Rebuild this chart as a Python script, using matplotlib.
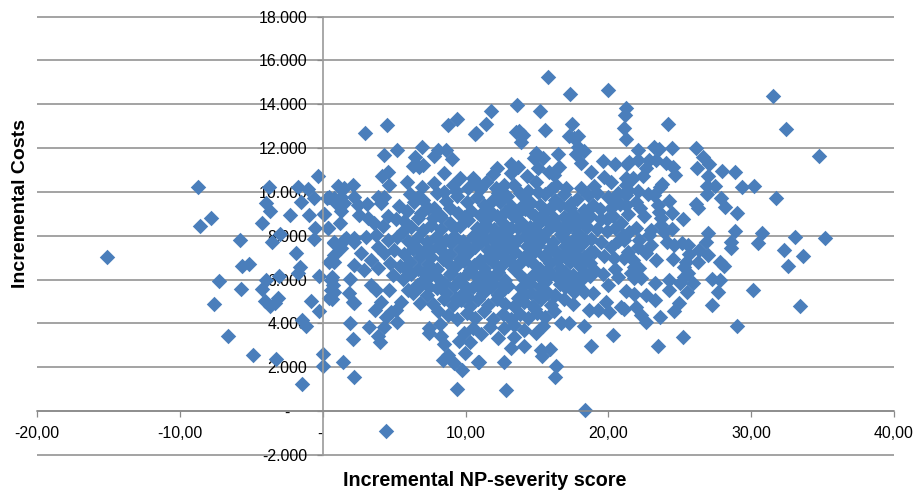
# scatter of incremental costs against incremental NP-severity score
import numpy as np
import matplotlib
matplotlib.use('Agg')
import matplotlib.pyplot as plt

x_ticks = [-20, -10, 0, 10, 20, 30, 40]
x_labels = ['-20,00', '-10,00', '- ', '10,00', '20,00', '30,00', '40,00']
y_ticks = [-2000, 0, 2000, 4000, 6000, 8000, 10000, 12000, 14000, 16000, 18000]
y_labels = ['-2.000', '-    ', '2.000', '4.000', '6.000', '8.000', '10.000', '12.000', '14.000', '16.000', '18.000']

# (score, costs), region by region
far_left = [
    (-15.1, 7050), (-8.75, 10230), (-8.57, 8450), (-7.8, 8800), (-7.24, 5930), (-7.63, 4890),
    (-6.65, 3430), (-5.8, 7810), (-5.72, 5560), (-5.63, 6640), (-5.18, 6720), (-4.88, 2570),
    (-4.27, 8600), (-4.25, 5560), (-3.97, 9500), (-3.97, 5990), (-3.78, 10230), (-3.69, 9150),
    (-3.57, 7730), (-3.25, 2370), (-3.06, 6180), (-4.02, 5010), (-3.67, 4820), (-3.34, 4920),
    (-3.15, 5150), (-2.97, 8080), (-2.29, 8950), (-1.87, 7220), (-1.75, 6290), (-1.73, 10230),
    (-1.59, 6570), (-1.5, 9560), (-1.47, 1240), (-1.45, 4160), (-1.17, 3890), (-1.05, 10120),
    (-0.94, 8950), (-0.84, 5020), (-0.63, 7840), (-0.59, 9710), (-0.54, 8370), (-0.35, 10740),
    (-0.28, 6170), (-0.28, 4560), (0.0, 2070), (0.04, 2600), (0.07, 8980), (0.28, 9710),
    (0.35, 8340), (0.44, 6820), (0.58, 5990), (0.58, 5530), (0.44, 5170),
]
upper_left = [
    (2.99, 12680), (4.5, 13060), (4.27, 11700), (5.2, 11900), (6.95, 12050), (6.49, 11610),
    (8.05, 11920), (8.63, 11920), (7.81, 11660), (9.03, 11500), (6.3, 11190), (6.77, 11150),
    (7.05, 11230), (4.55, 10900), (4.15, 10740), (4.64, 10330), (5.93, 10440), (6.95, 10230),
    (8.52, 10850), (7.81, 10400), (8.52, 10010), (2.1, 10320), (1.09, 10270), (1.51, 10170),
    (0.46, 9760), (0.81, 9710), (2.21, 9790), (1.28, 9790), (1.51, 9480), (0.93, 9480),
    (1.28, 9150), (0.11, 9000), (1.21, 8600), (0.39, 8340), (2.45, 9410), (3.1, 9450),
    (2.56, 8950), (3.85, 9790), (4.31, 9790), (4.08, 9480), (5.32, 9360), (6.13, 9900),
    (6.65, 9760), (6.37, 9560), (4.55, 8920), (5.13, 8750), (5.71, 8680), (6.65, 8800),
    (3.15, 8800), (3.61, 8570), (4.2, 8460), (3.73, 8040), (7.35, 9260), (7.81, 9260),
    (8.28, 8870), (0.77, 7730), (1.63, 7890), (2.21, 7890), (3.03, 7960),
]
lower_left = [
    (0.81, 7660), (1.51, 7810), (2.21, 7730), (1.28, 7430), (0.77, 7130), (0.81, 6820),
    (2.91, 6440), (2.21, 6670), (3.38, 6900), (2.68, 7200), (3.85, 7510), (0.63, 6110),
    (0.7, 5760), (0.77, 5450), (0.65, 5130), (1.91, 6020), (1.82, 5380), (2.1, 5000),
    (2.21, 4920), (1.93, 4010), (2.12, 3310), (1.42, 2230), (2.21, 1580), (3.26, 3860),
    (3.9, 3430), (3.99, 3170), (3.68, 4600), (4.31, 3860), (5.2, 4070), (4.43, 4310),
    (4.78, 4540), (3.38, 5760), (3.73, 5530), (4.66, 5530), (5.48, 5000), (5.13, 4620),
    (4.08, 5000), (5.99, 5530), (6.81, 4950), (6.81, 5710), (7.47, 5650), (8.05, 4590),
    (8.23, 3970), (7.47, 3810), (7.47, 3560), (8.31, 3430), (8.47, 3070), (8.75, 2570),
    (8.43, 2340), (9.22, 2190), (9.78, 1880), (9.38, 1000), (9.97, 2670), (9.57, 3220),
    (9.92, 3560), (10.32, 3170), (10.9, 2260), (4.4, -900),
]
upper_mid = [
    (9.38, 13330), (8.77, 13070), (10.69, 12660), (15.76, 15260), (17.34, 14470), (19.96, 14650),
    (13.61, 13970), (11.77, 13710), (15.2, 13710), (11.44, 13090), (10.74, 12670), (17.46, 13100),
    (15.59, 12840), (13.77, 12800), (14.0, 12600), (13.89, 12290), (13.54, 12750), (17.27, 12570),
    (17.9, 12570), (17.62, 12450), (21.24, 13810), (21.17, 13510), (21.08, 12920), (21.24, 12420),
    (17.9, 12040), (18.32, 11880), (17.74, 11730), (18.09, 11310), (14.94, 11760), (14.82, 11540),
    (15.41, 11570), (16.46, 11730), (12.21, 11110), (13.19, 11280), (13.66, 11150), (13.19, 10850),
    (14.29, 10740), (15.06, 11110), (15.87, 10930), (16.57, 11150), (16.22, 10780), (16.34, 10320),
    (19.65, 11400), (20.49, 11280), (21.31, 11280), (18.79, 10930), (19.72, 10700), (20.19, 10470),
    (21.24, 10620), (11.44, 10470), (10.5, 10620), (12.14, 10170), (12.72, 10320), (13.42, 10320),
    (14.94, 10470), (15.06, 10010), (14.12, 9790), (11.91, 9640), (17.04, 10170), (18.09, 10170),
    (17.39, 9480), (18.32, 9180), (18.91, 9410), (16.92, 8870), (19.96, 9790), (20.66, 9940),
    (21.36, 10090),
]
lower_mid = [
    (10.97, 2260), (12.72, 2260), (12.84, 970), (13.19, 2870), (14.07, 2950), (15.29, 2800),
    (15.94, 2830), (15.34, 2520), (16.34, 2070), (16.29, 1580), (18.39, 60), (18.79, 2980),
    (20.31, 3480), (18.32, 3890), (12.25, 3330), (13.37, 3370), (14.12, 3710), (14.94, 3560),
    (16.69, 4040), (17.27, 4040), (18.67, 4620), (19.26, 4620), (20.07, 4540), (20.89, 4740),
    (19.84, 5000), (18.32, 5450), (18.91, 5380), (19.61, 6250), (19.96, 5760), (21.24, 5500),
]
right_side = [
    (31.55, 14360), (32.44, 12870), (24.16, 13110), (34.78, 11640), (26.14, 12020), (24.46, 12020),
    (23.22, 12040), (23.52, 11950), (22.1, 11920), (26.61, 11610), (27.07, 11280), (26.23, 11080),
    (27.94, 10970), (28.85, 10930), (26.98, 10720), (26.91, 10270), (27.49, 10290), (26.89, 9910),
    (29.34, 10210), (30.22, 10290), (31.76, 9730), (27.87, 9730), (28.19, 9330), (26.14, 9440),
    (26.28, 9280), (28.99, 9030), (25.23, 8780), (24.23, 9590), (24.48, 9060), (23.76, 10350),
    (23.64, 10210), (24.67, 10780), (24.51, 11150), (24.04, 11310), (23.34, 11460), (22.87, 11460),
    (22.64, 11080), (22.41, 10730), (21.71, 10620), (21.24, 10320), (22.06, 10060), (22.76, 9910),
    (23.22, 9850), (21.47, 11380), (22.06, 11460), (21.24, 9860), (21.24, 9410), (21.94, 9560),
    (22.24, 9260), (22.52, 8920), (21.4, 9000), (23.5, 9410), (23.57, 9100), (23.69, 8800),
    (23.69, 8500), (23.92, 8190), (24.44, 8300), (22.99, 8270), (22.87, 8040), (21.94, 8340),
    (21.47, 8190), (21.01, 8040), (21.12, 7810), (22.17, 7810), (22.99, 7580), (22.06, 7510),
    (22.64, 7230), (26.96, 8150), (28.85, 8210), (30.76, 8120), (33.07, 7960), (35.2, 7920),
    (26.84, 7730), (30.46, 7690), (28.59, 7710), (28.59, 7430), (32.33, 7360), (33.63, 7080),
    (32.56, 6640), (24.11, 7710), (24.58, 7580), (25.14, 7690), (25.56, 7580), (25.67, 7170),
    (26.37, 7360), (26.96, 7130), (24.51, 6950), (23.32, 6900), (26.3, 6800), (27.84, 6820),
    (28.12, 6640), (25.44, 6820), (25.32, 6590), (25.56, 6290), (25.32, 6140), (25.91, 5840),
    (25.04, 5840), (27.26, 6030), (27.84, 5990), (27.66, 5450), (30.15, 5530), (27.29, 4850),
    (33.45, 4800), (28.99, 3900), (24.23, 5990), (23.29, 5840), (24.23, 5530), (25.51, 5430),
    (22.64, 5300), (23.25, 5080), (24.93, 4950), (24.58, 4590), (23.64, 4290), (25.21, 3400),
    (23.48, 2960), (22.64, 4060), (22.29, 4390), (21.94, 4740), (21.08, 4680), (21.82, 5350),
    (21.82, 6590), (22.17, 6520), (21.59, 6290), (22.29, 6060), (21.82, 6060), (21.71, 6900),
    (21.12, 6980), (21.36, 7280),
]
# the dense middle, where single marks overlap and are only roughly readable
core = [
    (9.6, 10650), (10.2, 10200), (11.0, 10150), (11.9, 10800), (9.1, 10300), (8.0, 9950),
    (13.8, 9950), (15.6, 9900), (16.3, 9650), (16.9, 9900), (18.6, 9850), (19.2, 9950),
    (20.4, 9650), (7.0, 9650), (8.6, 9600), (9.4, 9800), (10.1, 9550), (10.8, 9750),
    (11.3, 9400), (12.4, 9550), (12.9, 9800), (13.2, 9350), (14.6, 9500), (15.2, 9400),
    (15.9, 9250), (16.6, 9400), (17.8, 9700), (19.4, 9200), (20.2, 9250), (20.8, 9450),
    (5.9, 9150), (6.9, 9050), (7.7, 8800), (8.9, 9250), (9.5, 9050), (10.4, 9150),
    (11.0, 8950), (11.7, 9150), (12.2, 8900), (12.8, 9100), (13.6, 9000), (14.2, 9200),
    (14.9, 8900), (15.5, 9050), (16.2, 8800), (17.5, 9000), (18.0, 8700), (18.7, 8900),
    (19.5, 8750), (20.3, 8900), (20.9, 8600), (5.6, 8200), (6.2, 8400), (7.0, 8250),
    (7.6, 8500), (8.3, 8300), (8.9, 8600), (9.6, 8450), (10.2, 8700), (10.8, 8350),
    (11.4, 8550), (12.0, 8300), (12.6, 8600), (13.2, 8350), (13.9, 8650), (14.5, 8400),
    (15.1, 8550), (15.8, 8250), (16.5, 8450), (17.2, 8350), (17.9, 8150), (18.5, 8400),
    (19.2, 8300), (19.9, 8200), (20.5, 8350), (4.6, 7800), (5.2, 7950), (6.0, 7750),
    (6.6, 7900), (7.3, 7700), (7.9, 7950), (8.6, 7800), (9.2, 8000), (9.8, 7750),
    (10.5, 7950), (11.1, 7700), (11.8, 7900), (12.4, 7650), (13.0, 7950), (13.6, 7800),
    (14.2, 8000), (14.8, 7750), (15.4, 7900), (16.1, 7700), (16.8, 7950), (17.5, 7800),
    (18.1, 7600), (18.8, 7850), (19.5, 7700), (20.2, 7500), (20.7, 7750), (4.3, 7200),
    (5.0, 7350), (5.7, 7150), (6.3, 7400), (7.0, 7250), (7.6, 7050), (8.3, 7350),
    (8.9, 7150), (9.6, 7400), (10.2, 7200), (11.6, 7350), (12.2, 7150), (12.9, 7400),
    (13.5, 7250), (14.1, 7050), (14.9, 7300), (15.5, 7100), (16.2, 7350), (16.9, 7150),
    (17.6, 7300), (18.3, 7050), (19.0, 7250), (19.7, 7100), (20.4, 7000), (3.9, 6550),
    (4.7, 6750), (5.4, 6600), (6.1, 6800), (6.7, 6500), (7.4, 6700), (8.0, 6500),
    (8.7, 6800), (9.3, 6600), (9.9, 6850), (10.6, 6650), (11.3, 6550), (11.9, 6800),
    (12.5, 6600), (13.1, 6850), (13.8, 6750), (15.2, 6500), (15.9, 6750), (16.6, 6550),
    (17.3, 6800), (18.0, 6600), (18.7, 6750), (19.0, 6450), (20.5, 6500), (4.9, 6200),
    (5.6, 6050), (6.2, 6250), (7.0, 6000), (7.6, 6200), (8.3, 5950), (8.9, 6250),
    (9.6, 6050), (10.2, 6300), (10.8, 6100), (11.5, 5950), (12.1, 6200), (12.8, 6000),
    (14.1, 6050), (14.8, 6250), (15.4, 6000), (16.0, 6250), (16.8, 6050), (17.5, 6200),
    (18.1, 6000), (18.7, 6150), (20.7, 6100), (6.3, 5400), (7.3, 5300), (8.0, 5600),
    (8.6, 5400), (9.2, 5700), (9.9, 5450), (10.5, 5650), (11.2, 5400), (11.8, 5650),
    (12.5, 5450), (13.9, 5600), (14.6, 5400), (15.2, 5650), (15.8, 5400), (17.0, 5650),
    (17.6, 5450), (7.7, 4900), (8.5, 5100), (9.1, 4850), (9.7, 5050), (10.3, 4800),
    (10.9, 5100), (11.6, 4850), (12.2, 5100), (12.8, 4900), (14.1, 5000), (14.7, 4800),
    (15.3, 5100), (16.0, 4850), (16.9, 5100), (17.5, 4900), (8.8, 4400), (9.4, 4200),
    (10.1, 4500), (10.7, 4250), (11.3, 4550), (11.9, 4200), (12.6, 4450), (13.2, 4200),
    (13.8, 4450), (14.4, 4250), (15.0, 4500), (15.6, 4300), (16.2, 4550), (10.5, 3800),
    (11.1, 3500), (11.7, 3850), (12.7, 3800), (13.4, 3950), (15.4, 3900), (11.6, 7050),
    (9.3, 10050), (10.7, 10500), (12.3, 9950), (14.4, 10050), (16.0, 10150), (19.0, 10250),
    (13.3, 8900), (15.0, 8200), (16.7, 8100), (12.0, 7400), (14.4, 6900), (16.5, 6900),
    (11.0, 6900), (12.6, 7100), (14.5, 5850), (13.0, 5700), (15.6, 5900), (10.0, 7600),
    (8.1, 7550), (6.5, 7500), (9.0, 6300), (11.4, 6350), (17.9, 5700), (16.3, 5300),
    (13.4, 4800), (11.0, 5600), (9.3, 5150), (18.8, 7300), (17.2, 8600), (19.9, 8750),
    (8.2, 8950), (9.9, 8850), (11.2, 8200), (12.4, 8150), (13.7, 8350), (14.7, 8050),
    (15.4, 8750), (16.1, 8500), (17.0, 7550), (18.4, 7800), (9.0, 7650), (10.7, 7500),
    (11.4, 7850), (12.3, 7900), (13.3, 7600), (14.3, 7550), (15.1, 7600), (15.9, 7450),
    (16.4, 7150), (17.8, 7100), (8.4, 6950), (9.6, 6950), (10.3, 6450), (12.3, 6350),
    (13.4, 6500), (14.8, 6700), (15.7, 6450), (17.0, 6350), (18.3, 6350), (8.5, 5850),
    (9.8, 5800), (11.9, 5850), (12.6, 5750), (14.2, 5300), (15.1, 5250), (16.6, 5800),
    (10.2, 5200), (12.3, 5300), (13.7, 5150), (14.9, 4650), (9.2, 8350), (10.6, 8050),
    (12.9, 8300), (13.9, 9300), (15.8, 8650), (11.6, 8800), (17.3, 9250), (18.4, 8500),
    (7.5, 7350), (6.8, 7050), (7.1, 6300), (5.9, 6450), (6.6, 5750), (7.9, 6150),
    (14.0, 8450), (15.3, 7850), (16.6, 8300), (17.7, 8450), (14.6, 7250), (15.7, 6950),
    (17.1, 7000), (13.9, 6150), (15.2, 6150), (16.4, 6100), (17.4, 5950), (14.5, 9100),
]

all_points = np.array(far_left + upper_left + lower_left + upper_mid + lower_mid + right_side + core)

plt.rcParams['font.family'] = ['Liberation Sans', 'DejaVu Sans']

fig = plt.figure(figsize=(9.17, 4.92), dpi=100)
ax = fig.add_axes([37 / 917, 1 - 455 / 492, (894 - 37) / 917, (455 - 16.6) / 492])
ax.set_xlim(-20, 40)
ax.set_ylim(-2000, 18000)

ax.hlines(y_ticks, -20, 40, color='#8a8a8a', lw=1.1, zorder=0.5, clip_on=False)
ax.scatter(all_points[:, 0], all_points[:, 1], marker='D', s=62, color='#4a7ebb',
           linewidths=0, zorder=2, clip_on=False)

# axes cross at zero, as in the spreadsheet original
for side in ['top', 'right']:
    ax.spines[side].set_visible(False)
ax.spines['left'].set_position(('data', 0))
ax.spines['bottom'].set_position(('data', 0))
ax.spines['left'].set_color('#9a9a9a')
ax.spines['bottom'].set_color('#8a8a8a')
ax.spines['left'].set_linewidth(1.2)
ax.spines['bottom'].set_linewidth(1.1)

ax.set_xticks(x_ticks)
ax.set_xticklabels(x_labels)
ax.set_yticks(y_ticks)
ax.set_yticklabels(y_labels)
ax.tick_params(axis='x', length=4, width=0.9, color='#8a8a8a', labelsize=11.4, pad=7, labelcolor='black')
ax.tick_params(axis='y', length=4, width=0.9, color='#8a8a8a', labelsize=11.4, pad=7, labelcolor='black')

fig.text(485 / 917, 1 - 480 / 492, 'Incremental NP-severity score', fontsize=14.2,
         fontweight='bold', ha='center', va='center')
fig.text(20.5 / 917, 1 - 203 / 492, 'Incremental Costs', fontsize=14, fontweight='bold',
         rotation=90, ha='center', va='center')

fig.savefig('out.png', dpi=100)
